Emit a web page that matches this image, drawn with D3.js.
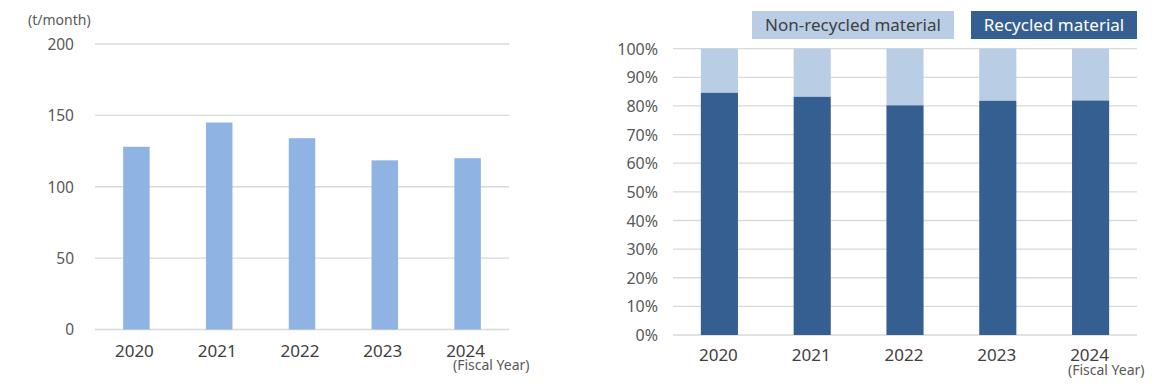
<!DOCTYPE html>
<html><head><meta charset="utf-8">
<script src="https://cdn.jsdelivr.net/npm/d3@7"></script>
<style>body{margin:0;background:#fff}svg text{font-family:"Noto Sans",sans-serif}</style>
</head><body><svg id="c" width="1164" height="384"></svg>
<script>
const years = ["2020","2021","2022","2023","2024"];
const amount = [128, 145, 134, 118.5, 120];
const recycledPct = [84.6, 83.2, 80.2, 81.8, 81.9];
const leftTicks = [0, 50, 100, 150, 200];
const rightTicks = [0,10,20,30,40,50,60,70,80,90,100];
const legendLabels = ["Non-recycled material", "Recycled material"];

const svg = d3.select("#c");
const grid = "#d9d9d9", txt = "#595959";

// LEFT CHART
{
  const x = d3.scaleBand().domain(years).range([95, 509]).paddingInner(0.68).paddingOuter(0.34);
  const y = d3.scaleLinear().domain([0, 200]).range([329.5, 44]);
  const g = svg.append("g");
  g.selectAll("line.g").data(leftTicks).join("line")
    .attr("x1", 95).attr("x2", 509).attr("y1", d => y(d)).attr("y2", d => y(d))
    .attr("stroke", grid).attr("stroke-width", 1.3);
  g.selectAll("rect").data(amount).join("rect")
    .attr("x", (d,i) => x(years[i])).attr("width", x.bandwidth())
    .attr("y", d => y(d)).attr("height", d => y(0) - y(d))
    .attr("fill", "#8fb4e3");
  const ya = d3.axisLeft(y).tickValues(leftTicks).tickSize(0).tickPadding(0);
  const ag = g.append("g").attr("transform", "translate(74,0)").call(ya);
  ag.select(".domain").remove();
  ag.selectAll("text").attr("fill", txt).attr("font-size", 15.5).attr("dy", "0.35em");
  const xa = d3.axisBottom(x).tickSize(0).tickPadding(0);
  const xg = g.append("g").attr("transform", "translate(-2,345)").call(xa);
  xg.select(".domain").remove();
  xg.selectAll("text").attr("fill", "#404040").attr("font-size", 17).attr("dy", "0.7em");
  g.append("text").attr("x", 28).attr("y", 25).attr("font-size", 14).attr("fill", txt).text("(t/month)");
  g.append("text").attr("x", 453).attr("y", 370).attr("font-size", 14).attr("fill", txt).text("(Fiscal Year)");
}

// RIGHT CHART
{
  const x = d3.scaleBand().domain(years).range([673, 1137]).paddingInner(0.6).paddingOuter(0.3);
  const y = d3.scaleLinear().domain([0, 100]).range([335, 48.7]);
  const g = svg.append("g");
  g.selectAll("line.g").data(rightTicks).join("line")
    .attr("x1", 673).attr("x2", 1137).attr("y1", d => y(d)).attr("y2", d => y(d))
    .attr("stroke", grid).attr("stroke-width", 1.3);
  g.selectAll("rect.nr").data(recycledPct).join("rect").attr("class","nr")
    .attr("x", (d,i) => x(years[i])).attr("width", x.bandwidth())
    .attr("y", y(100)).attr("height", d => y(d) - y(100))
    .attr("fill", "#b9cde5");
  g.selectAll("rect.r").data(recycledPct).join("rect").attr("class","r")
    .attr("x", (d,i) => x(years[i])).attr("width", x.bandwidth())
    .attr("y", d => y(d)).attr("height", d => y(0) - y(d))
    .attr("fill", "#365f91");
  const ya = d3.axisLeft(y).tickValues(rightTicks).tickFormat(d => d + "%").tickSize(0).tickPadding(0);
  const ag = g.append("g").attr("transform", "translate(658,0)").call(ya);
  ag.select(".domain").remove();
  ag.selectAll("text").attr("fill", txt).attr("font-size", 16).attr("dy", "0.35em");
  const xa = d3.axisBottom(x).tickSize(0).tickPadding(0);
  const xg = g.append("g").attr("transform", "translate(-1,349)").call(xa);
  xg.select(".domain").remove();
  xg.selectAll("text").attr("fill", "#404040").attr("font-size", 17).attr("dy", "0.7em");
  g.append("text").attr("x", 1068).attr("y", 375).attr("font-size", 14).attr("fill", txt).text("(Fiscal Year)");

  // legend
  const boxes = [{x0:752, x1:954, fill:"#b9cde5", tc:"#404040"}, {x0:971, x1:1137, fill:"#365f91", tc:"#ffffff"}];
  legendLabels.forEach((lab, i) => {
    const b = boxes[i];
    g.append("rect").attr("x", b.x0).attr("y", 11).attr("width", b.x1 - b.x0).attr("height", 28).attr("fill", b.fill);
    g.append("text").attr("x", (b.x0 + b.x1) / 2).attr("y", 25).attr("dy", "0.35em")
      .attr("text-anchor", "middle").attr("font-size", 17).attr("fill", b.tc).text(lab);
  });
}
</script></body></html>
